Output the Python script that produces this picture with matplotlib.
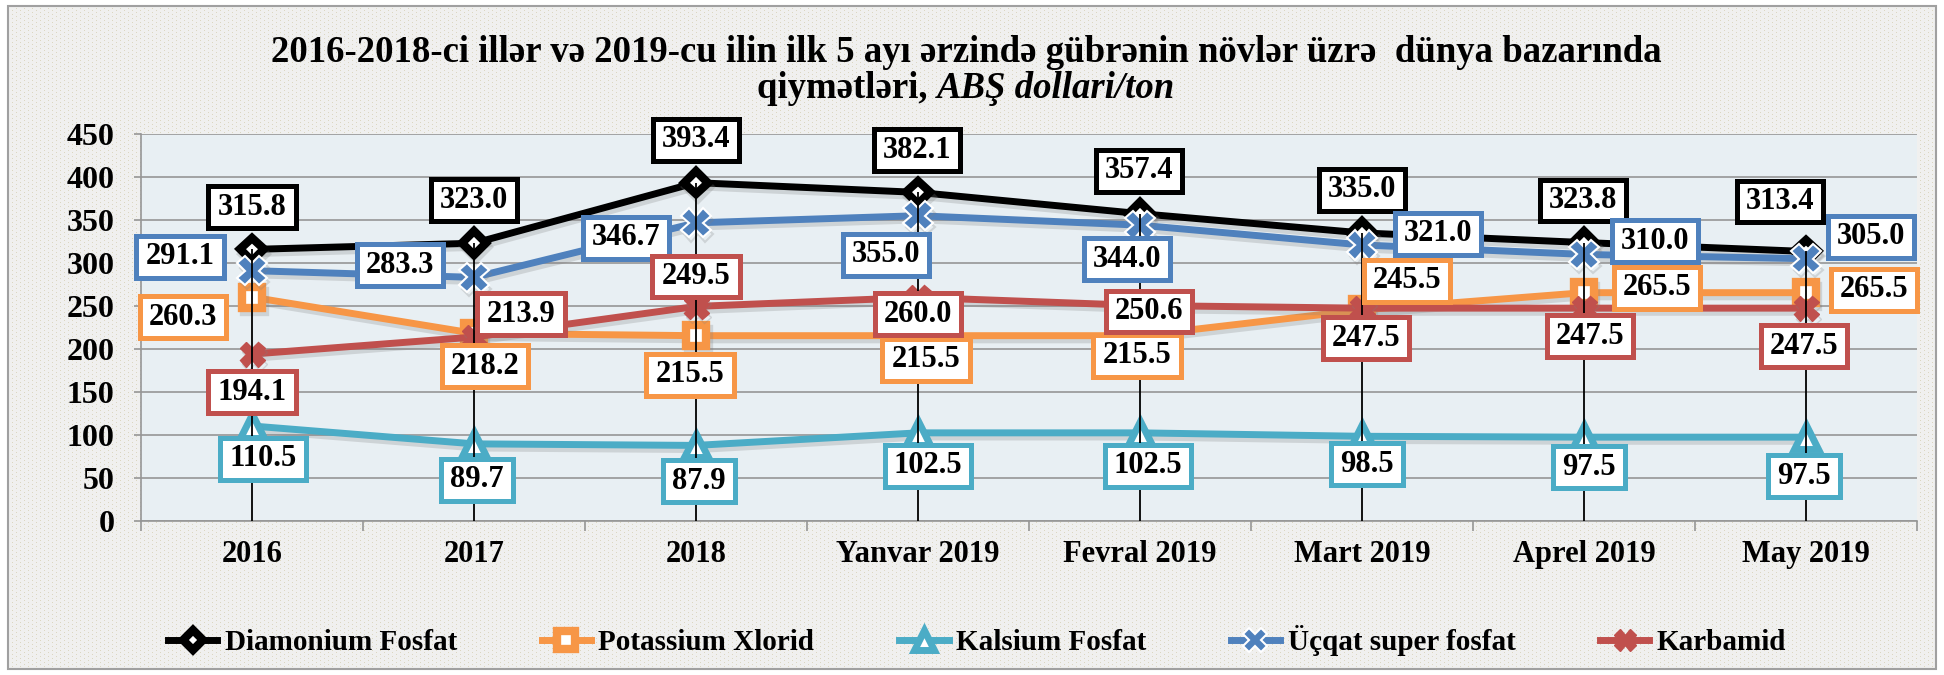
import numpy as np
import matplotlib
matplotlib.use("Agg")
import matplotlib.pyplot as plt
import matplotlib.patheffects as pe
from matplotlib.lines import Line2D
from matplotlib.path import Path

SERIF = ['Liberation Serif', 'DejaVu Serif']
plt.rcParams['font.family'] = SERIF
plt.rcParams['font.weight'] = 'bold'

# Kateqoriyalar və seriyalar (ABŞ dolları/ton)
aylar = ['2016', '2017', '2018', 'Yanvar 2019', 'Fevral 2019', 'Mart 2019', 'Aprel 2019', 'May 2019']
diamonium = [315.8, 323.0, 393.4, 382.1, 357.4, 335.0, 323.8, 313.4]
potassium = [260.3, 218.2, 215.5, 215.5, 215.5, 245.5, 265.5, 265.5]
kalsium = [110.5, 89.7, 87.9, 102.5, 102.5, 98.5, 97.5, 97.5]
ucqat = [291.1, 283.3, 346.7, 355.0, 344.0, 321.0, 310.0, 305.0]
karbamid = [194.1, 213.9, 249.5, 260.0, 250.6, 247.5, 247.5, 247.5]

# etiketlərin nöqtəyə görə yerdəyişməsi (piksel, x sağa, y aşağı)
yer_diamonium = [(0, -42), (0, -43), (0, -43), (-1, -42), (-1, -43), (0, -43), (-1, -42), (-26, -50)]
yer_potassium = [(-69, 20), (11, 33), (-6, 39), (8, 24), (-3, 20), (45, -29), (73, -5), (68, -3)]
yer_kalsium = [(11, 33), (3, 36), (3, 36), (10, 33), (8, 33), (5, 28), (5, 30), (-2, 39)]
yer_ucqat = [(-72, -14), (-74, -12), (-70, 15), (-32, 39), (-13, 34), (76, -11), (71, -13), (65, -22)]
yer_karbamid = [(0, 38), (47, -23), (0, -30), (0, 17), (9, 6), (4, 30), (6, 28), (-2, 38)]


def kutu(x0, y0, width, height, mutation_size):
    # etiket çərçivəsi: yanlardan çox, yuxarı-aşağıdan az boşluq
    px = 0.30 * mutation_size
    py = 0.21 * mutation_size
    return Path([(x0 - px, y0 - py), (x0 + width + px, y0 - py),
                 (x0 + width + px, y0 + height + py), (x0 - px, y0 + height + py),
                 (x0 - px, y0 - py)], closed=True)


W, H = 1944, 675
fig = plt.figure(figsize=(W / 100, H / 100), dpi=100)
fig.patch.set_facecolor('white')

# fonun nöqtəli teksturası
img = np.ones((H, W, 3))
img[6:H - 6, 8:W - 8] = [0.945, 0.945, 0.94]
yy, xx = np.mgrid[0:H, 0:W]
noqte = ((yy % 4 == 0) & (xx % 8 == 0)) | ((yy % 4 == 2) & (xx % 8 == 4))
ic = (yy > 7) & (yy < H - 7) & (xx > 9) & (xx < W - 9)
img[noqte & ic] = [0.86, 0.84, 0.76]
fig.figimage(img, xo=0, yo=0, zorder=-10)
fig.patches.append(plt.Rectangle((8 / W, 6 / H), (W - 16) / W, (H - 12) / H,
                                 transform=fig.transFigure, fill=False,
                                 edgecolor='#a0a0a0', lw=1.5, zorder=-5))

ax = fig.add_axes([141 / W, (H - 521) / H, 1776 / W, 387 / H], zorder=2)
ax.set_facecolor('#e8eff3')
x = np.arange(len(aylar))

kolge = [pe.SimpleLineShadow(offset=(1.5, -3), shadow_color='#808080', alpha=0.25), pe.Normal()]

seriyalar = [
    ('Diamonium Fosfat', diamonium, yer_diamonium, '#000000',
     dict(marker='D', ms=12, mfc='white', mec='black', mew=6)),
    ('Potassium Xlorid', potassium, yer_potassium, '#f79646',
     dict(marker='s', ms=15, mfc='white', mec='#f79646', mew=6)),
    ('Kalsium Fosfat', kalsium, yer_kalsium, '#4bacc6',
     dict(marker='^', ms=17, mfc='white', mec='#4bacc6', mew=5)),
    ('Üçqat super fosfat', ucqat, yer_ucqat, '#4f81bd',
     dict(marker='X', ms=21, mfc='#4f81bd', mec='white', mew=1.5)),
    ('Karbamid', karbamid, yer_karbamid, '#c0504d',
     dict(marker='X', ms=18, mfc='#c0504d', mec='#c0504d', mew=1)),
]

for ad, qiymet, yer, reng, mk in seriyalar:
    ax.plot(x, qiymet, color=reng, lw=5, label=ad, zorder=3, path_effects=kolge, **mk)

# hər kateqoriyada ən yuxarı nöqtədən oxa qədər xətt
ust = np.max([diamonium, potassium, kalsium, ucqat, karbamid], axis=0)
ax.vlines(x, 0, ust, color='black', lw=1.3, zorder=4)

for ad, qiymet, yer, reng, mk in seriyalar:
    for xi, v, (dx, dy) in zip(x, qiymet, yer):
        ax.annotate('%.1f' % v, (xi, v), xytext=(dx, -dy), textcoords='offset pixels',
                    ha='center', va='center', fontsize=22, fontweight='bold',
                    bbox=dict(boxstyle=kutu, fc='white', ec=reng, lw=3.6),
                    zorder=6)

ax.set_xlim(-0.5, len(aylar) - 0.5)
ax.set_ylim(0, 450)
ax.set_yticks(np.arange(0, 451, 50))
ax.yaxis.grid(True, color='#969696', lw=1.2)
ax.set_axisbelow(True)
ax.set_xticks(np.arange(-0.5, len(aylar), 1.0))
ax.set_xticklabels([])
ax.set_xticks(x, minor=True)
ax.set_xticklabels(aylar, minor=True)
ax.tick_params(axis='x', which='major', length=7, width=1.2, color='#969696', direction='out')
ax.tick_params(axis='x', which='minor', length=0, pad=14, labelsize=22)
ax.tick_params(axis='y', length=5, width=1.2, color='#969696', pad=14, labelsize=23)
for t in ax.get_xticklabels(minor=True) + ax.get_yticklabels():
    t.set_fontweight('bold')
for s in ['top', 'right']:
    ax.spines[s].set_visible(False)
for s in ['left', 'bottom']:
    ax.spines[s].set_color('#969696')
    ax.spines[s].set_linewidth(1.2)

# başlıq
fig.text(966 / W, 1 - 52 / H,
         '2016-2018-ci illər və 2019-cu ilin ilk 5 ayı ərzində gübrənin növlər üzrə  dünya bazarında',
         ha='center', va='center', fontsize=26.5, fontweight='bold')
t1 = fig.text(0, 1 - 89 / H, 'qiymətləri, ', ha='left', va='center', fontsize=26.5, fontweight='bold')
t2 = fig.text(0, 1 - 89 / H, 'ABŞ dollari/ton', ha='left', va='center', fontsize=26.5,
              fontweight='bold', style='italic')
r = fig.canvas.get_renderer()
w1 = t1.get_window_extent(r).width
w2 = t2.get_window_extent(r).width
x0 = 966 - (w1 + w2) / 2
t1.set_x(x0 / W)
t2.set_x((x0 + w1) / W)

handles = []
for ad, qiymet, yer, reng, mk in seriyalar:
    mk2 = dict(mk)
    mk2['ms'] = mk['ms'] * 0.85
    handles.append(Line2D([], [], color=reng, lw=5, **mk2))
fig.legend(handles, [s[0] for s in seriyalar], loc='center', bbox_to_anchor=(977 / W, 1 - 641 / H),
           ncol=5, frameon=False, handlelength=1.7, handletextpad=0.25,
           columnspacing=2.9, prop={'weight': 'bold', 'size': 21})

fig.savefig('out.png', dpi=100, facecolor=fig.get_facecolor())
